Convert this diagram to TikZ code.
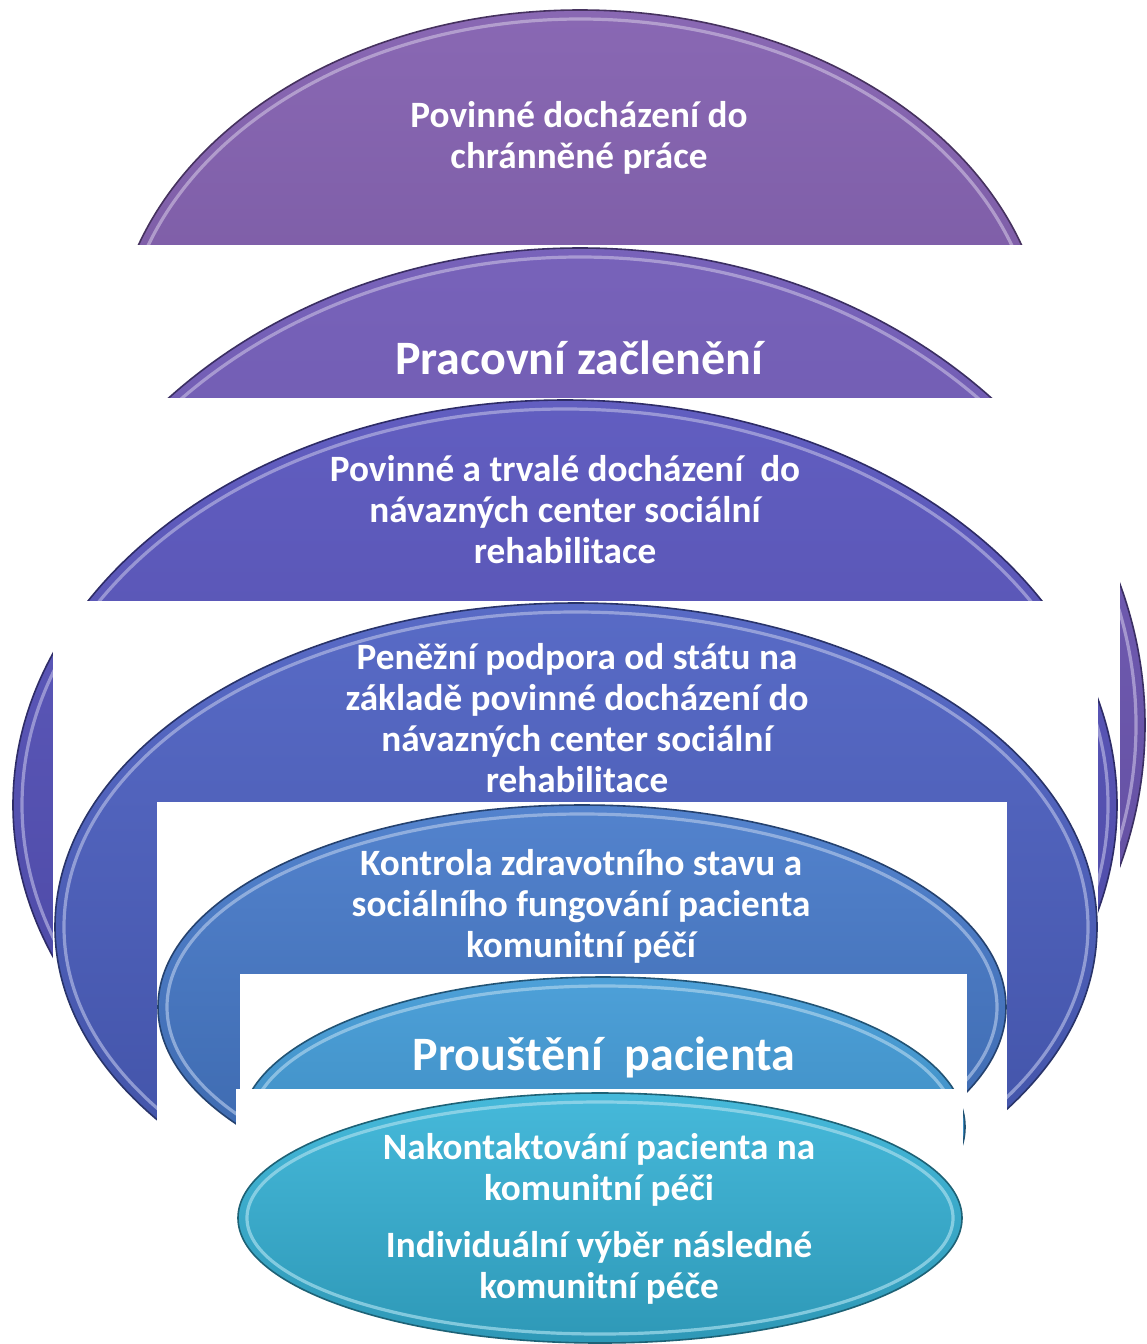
\documentclass[tikz,border=0pt]{standalone}
\usepackage{fontspec}
\setmainfont{Carlito}
\definecolor{lvA}{HTML}{7F5BAD}
\definecolor{lvB}{HTML}{6C55B4}
\definecolor{lvC}{HTML}{5450BB}
\definecolor{lvD}{HTML}{4A5EC1}
\definecolor{lvE}{HTML}{4478C9}
\definecolor{lvF}{HTML}{3E98D5}
\definecolor{lvG}{HTML}{36B3D7}

\begin{document}
\begin{tikzpicture}[x=0.5pt,y=-0.5pt,
    oval/.style={top color=#1!92!white,bottom color=#1!85!black,
      draw=#1!55!black,line width=0.8pt},
    rim/.style={draw=#1!45!white,line width=1.6pt,opacity=0.7},
    cover/.style={fill=white},
    txt/.style={text=white,align=center,inner sep=0pt,
      font=\bfseries\fontsize{18.6}{20.5}\selectfont},
    bigtxt/.style={txt,font=\bfseries\fontsize{24}{26}\selectfont}]
  \useasboundingbox (0,0) rectangle (1146,1344);

  % top layer
  \path[oval=lvA] (580,359) ellipse [x radius=467,y radius=349];
  \draw[rim=lvA] (580,359) ellipse [x radius=458,y radius=340];
  \fill[cover] (-10,245) rectangle (1160,1360);
  \node[txt] (chranena) at (579,138) {Povinné docházení do\\chránněné práce};

  % pracovni zacleneni
  \path[oval=lvB] (580,725) ellipse [x radius=565,y radius=477];
  \draw[rim=lvB] (580,725) ellipse [x radius=556,y radius=468];
  \fill[cover] (-10,398) rectangle (1120,1360);
  \node[bigtxt] (pracovni) at (579,358) {Pracovní začlenění};

  % navazna centra
  \path[oval=lvC] (565,805) ellipse [x radius=552,y radius=405];
  \draw[rim=lvC] (565,805) ellipse [x radius=543,y radius=396];
  \fill[cover] (53,601) rectangle (1098,1360);
  \node[txt] (trvale) at (565,510)
    {Povinné a trvalé docházení\ \ do\\návazných center sociální\\rehabilitace};

  % penezni podpora
  \path[oval=lvD] (576,927) ellipse [x radius=521,y radius=324];
  \draw[rim=lvD] (576,927) ellipse [x radius=512,y radius=315];
  \fill[cover] (157,802) rectangle (1007,1360);
  \node[txt] (podpora) at (577,718)
    {Peněžní podpora od státu na\\základě povinné docházení do\\
     návazných center sociální\\rehabilitace};

  % kontrola
  \path[oval=lvE] (582,1007) ellipse [x radius=424,y radius=202];
  \draw[rim=lvE] (582,1007) ellipse [x radius=415,y radius=193];
  \fill[cover] (240,974) rectangle (967,1360);
  \node[txt] (kontrola) at (581,906)
    {Kontrola zdravotního stavu a\\sociálního fungování pacienta\\komunitní péčí};

  % propusteni
  \path[oval=lvF] (603,1127) ellipse [x radius=362,y radius=150];
  \draw[rim=lvF] (603,1127) ellipse [x radius=353,y radius=141];
  \fill[cover] (236,1089) rectangle (963,1360);
  \node[bigtxt] (prousteni) at (604,1057) {Prouštění\ \ pacienta};

  % nakontaktovani
  \path[oval=lvG] (600,1218) ellipse [x radius=362,y radius=125];
  \draw[rim=lvG] (600,1218) ellipse [x radius=353,y radius=116];
  \node[txt] (nakontakt) at (599,1219)
    {Nakontaktování pacienta na\\komunitní péči\\[8pt]
     Individuální výběr následné\\komunitní péče};
\end{tikzpicture}
\end{document}
